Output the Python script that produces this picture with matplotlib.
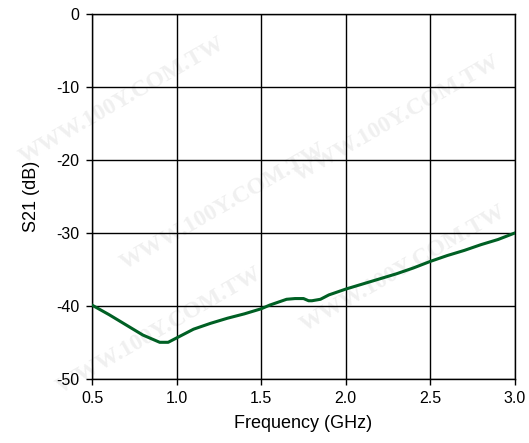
import numpy as np
import matplotlib.pyplot as plt

# Curva S21
freq_ghz = [0.5, 0.6, 0.7, 0.8, 0.9, 0.95, 1.0, 1.1, 1.2, 1.3, 1.4, 1.5,
            1.55, 1.6, 1.65, 1.7, 1.75, 1.78, 1.8, 1.85, 1.9, 2.0,
            2.1, 2.2, 2.3, 2.4, 2.5, 2.6, 2.7, 2.8, 2.9, 3.0]
s21_db = [-39.9, -41.2, -42.6, -44.0, -45.0, -45.0, -44.4, -43.2, -42.4, -41.7, -41.1, -40.4,
          -39.9, -39.5, -39.1, -39.0, -39.0, -39.3, -39.3, -39.1, -38.5, -37.7,
          -37.0, -36.3, -35.6, -34.8, -33.9, -33.1, -32.4, -31.6, -30.9, -30.0]

x_ticks = [0.5, 1.0, 1.5, 2.0, 2.5, 3.0]
y_ticks = [-50, -40, -30, -20, -10, 0]

plt.rcParams['font.family'] = ['Liberation Sans', 'DejaVu Sans']
plt.rcParams['axes.unicode_minus'] = False

fig = plt.figure(figsize=(5.29, 4.43), dpi=100)
ax = fig.add_axes([0.174, 0.145, 0.7995, 0.823])

# marca d'água (fraca, atrás do gráfico)
for (wx, wy) in [(0.03, 0.62), (0.22, 0.38), (0.10, 0.10), (0.55, 0.58), (0.56, 0.24)]:
    fig.text(wx, wy, "WWW.100Y.COM.TW", fontsize=17, color='#f0f0f0',
             fontweight='bold', family='Liberation Serif', rotation=30,
             ha='left', va='bottom', zorder=-1)

ax.patch.set_alpha(0)
ax.plot(freq_ghz, s21_db, color='#006024', linewidth=2.2, zorder=3)

ax.set_xlim(0.5, 3.0)
ax.set_ylim(-50, 0)
ax.set_xticks(x_ticks)
ax.set_xticklabels([f"{v:.1f}" for v in x_ticks])
ax.set_yticks(y_ticks)
ax.grid(True, color='black', linewidth=1.0)
for s in ax.spines.values():
    s.set_linewidth(1.0)
ax.tick_params(direction='out', length=4, width=1, labelsize=11.5)
ax.tick_params(axis='x', pad=5)
ax.tick_params(axis='y', pad=5)
ax.set_xlabel("Frequency (GHz)", fontsize=13, labelpad=6)
ax.set_ylabel("S21 (dB)", fontsize=13, labelpad=12)

fig.savefig("out.png", dpi=100)
